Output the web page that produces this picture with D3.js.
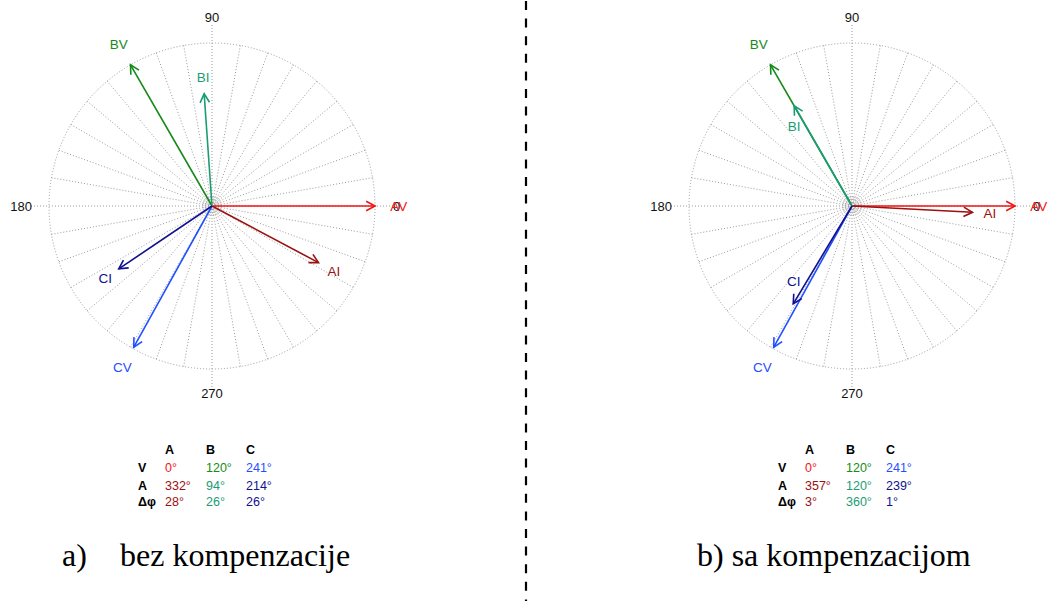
<!DOCTYPE html>
<html>
<head>
<meta charset="utf-8">
<script src="https://cdn.jsdelivr.net/npm/d3@7"></script>
<style>
  html, body { margin: 0; padding: 0; background: #fff; }
  svg { display: block; }
</style>
</head>
<body>
<svg id="chart" width="1048" height="601"></svg>
<script>
// ---------- DATA ----------
const phases = ["A", "B", "C"];
const rowLabels = ["V", "A", "Δφ"];
const axisTicks = [0, 90, 180, 270];

// panel a) bez kompenzacije
const voltAnglesA = [0, 120, 241];
const voltMagA = [1.0, 1.0, 0.99];
const currAnglesA = [332, 94, 214];
const currMagA = [0.74, 0.69, 0.69];
const phaseDiffA = [28, 26, 26];

// panel b) sa kompenzacijom
const voltAnglesB = [0, 120, 241];
const voltMagB = [1.0, 1.0, 0.99];
const currAnglesB = [357, 120, 239];
const currMagB = [0.74, 0.71, 0.70];
const phaseDiffB = [3, 360, 1];

const captions = [["a)", "bez kompenzacije"], ["b) sa kompenzacijom"]];

// ---------- STYLE / LAYOUT ----------
const voltColors = ["#f01414", "#178a17", "#1f4fff"];
const currColors = ["#9b1010", "#1a9c74", "#10108f"];
const gridColor = "#9a9a9a";
const R = 163;
const cy = 206;
const centers = [212, 852];
const font = "'Liberation Sans', Arial, Helvetica, sans-serif";

const svg = d3.select("#chart");
const rScale = d3.scaleLinear().domain([0, 1]).range([0, R]);

function pt(cx, deg, r) {
  const a = deg * Math.PI / 180;
  return [cx + r * Math.cos(a), cy - r * Math.sin(a)];
}

function drawPanel(cx, vAng, vMag, iAng, iMag, dPhi, labelAdjust) {
  const g = svg.append("g");
  // radial grid lines every 10 deg
  const spokes = d3.range(0, 360, 10);
  g.selectAll("line.spoke").data(spokes).join("line")
    .attr("x1", cx).attr("y1", cy)
    .attr("x2", d => pt(cx, d, axisTicks.includes(d) ? 181 : R)[0])
    .attr("y2", d => pt(cx, d, axisTicks.includes(d) ? 181 : R)[1])
    .attr("stroke", gridColor).attr("stroke-width", 1)
    .attr("stroke-dasharray", "1,2");
  // circles
  const rings = [3, 5, 7, 9];
  g.selectAll("circle.ring").data(rings).join("circle")
    .attr("cx", cx).attr("cy", cy).attr("r", d => d)
    .attr("fill", "none").attr("stroke", gridColor).attr("stroke-width", 0.8)
    .attr("stroke-dasharray", "1,1");
  g.append("circle").attr("cx", cx).attr("cy", cy).attr("r", R)
    .attr("fill", "none").attr("stroke", gridColor).attr("stroke-width", 1)
    .attr("stroke-dasharray", "1,2");

  // tick labels
  const tickPos = {
    0: { r: 181, anchor: "start" },
    90: { r: 189, anchor: "middle" },
    180: { r: 180, anchor: "end" },
    270: { r: 187, anchor: "middle" }
  };
  g.selectAll("text.tick").data(axisTicks).join("text")
    .attr("x", d => pt(cx, d, tickPos[d].r)[0])
    .attr("y", d => pt(cx, d, tickPos[d].r)[1])
    .attr("dy", "0.36em")
    .attr("text-anchor", d => tickPos[d].anchor)
    .attr("font-family", font).attr("font-size", 13).attr("fill", "#111")
    .text(d => d);

  // vectors
  const vecs = [];
  phases.forEach((p, i) => {
    vecs.push({ name: p + "V", ang: vAng[i], mag: vMag[i], color: voltColors[i] });
  });
  phases.forEach((p, i) => {
    vecs.push({ name: p + "I", ang: iAng[i], mag: iMag[i], color: currColors[i] });
  });

  const vg = g.selectAll("g.vec").data(vecs).join("g");
  vg.each(function (d) {
    const sel = d3.select(this);
    const len = rScale(d.mag);
    const tip = pt(cx, d.ang, len);
    sel.append("line")
      .attr("x1", cx).attr("y1", cy).attr("x2", tip[0]).attr("y2", tip[1])
      .attr("stroke", d.color).attr("stroke-width", 1.6);
    const barb = 10, spread = 28;
    const back = (d.ang + 180);
    const b1 = [tip[0] + barb * Math.cos((back + spread) * Math.PI / 180),
                tip[1] - barb * Math.sin((back + spread) * Math.PI / 180)];
    const b2 = [tip[0] + barb * Math.cos((back - spread) * Math.PI / 180),
                tip[1] - barb * Math.sin((back - spread) * Math.PI / 180)];
    sel.append("path")
      .attr("d", `M${b1[0]},${b1[1]}L${tip[0]},${tip[1]}L${b2[0]},${b2[1]}`)
      .attr("fill", "none").attr("stroke", d.color).attr("stroke-width", 1.6);
    const adj = labelAdjust[d.name];
    const lp = adj ? pt(cx, d.ang + adj.da, rScale(adj.r)) : pt(cx, d.ang, len * 1.145);
    sel.append("text")
      .attr("x", lp[0]).attr("y", lp[1]).attr("dy", "0.36em")
      .attr("text-anchor", "middle")
      .attr("font-family", font).attr("font-size", 13.5).attr("fill", d.color)
      .text(d.name);
  });

  // table
  const colX = [cx - 47, cx - 6, cx + 34];
  const rowX = cx - 74;
  const rowY = [454, 471.5, 490, 505.5];
  const tg = g.append("g").attr("font-family", font).attr("font-size", 12.5);
  tg.selectAll("text.hdr").data(phases).join("text")
    .attr("x", (d, i) => colX[i]).attr("y", rowY[0])
    .attr("font-weight", "bold").attr("fill", "#000").text(d => d);
  tg.selectAll("text.rl").data(rowLabels).join("text")
    .attr("x", rowX).attr("y", (d, i) => rowY[i + 1])
    .attr("font-weight", "bold").attr("fill", "#000").text(d => d);
  const rows = [
    { vals: vAng, colors: voltColors },
    { vals: iAng, colors: currColors },
    { vals: dPhi, colors: currColors }
  ];
  rows.forEach((row, ri) => {
    tg.selectAll(null).data(row.vals).join("text")
      .attr("x", (d, i) => colX[i]).attr("y", rowY[ri + 1])
      .attr("fill", (d, i) => row.colors[i])
      .text(d => d + "°");
  });
}

drawPanel(centers[0], voltAnglesA, voltMagA, currAnglesA, currMagA, phaseDiffA, {});
drawPanel(centers[1], voltAnglesB, voltMagB, currAnglesB, currMagB, phaseDiffB, {
  BI: { r: 0.607, da: 5.8 },
  CI: { r: 0.585, da: -6.6 }
});

// separator
svg.append("line")
  .attr("x1", 526).attr("x2", 526).attr("y1", 1).attr("y2", 601)
  .attr("stroke", "#000").attr("stroke-width", 2.2)
  .attr("stroke-dasharray", "9,8.6");

// captions
const serif = "'Liberation Serif', 'Times New Roman', serif";
svg.append("text").attr("x", 62).attr("y", 565.5)
  .attr("font-family", serif).attr("font-size", 32).text(captions[0][0]);
svg.append("text").attr("x", 120).attr("y", 565.5)
  .attr("font-family", serif).attr("font-size", 32).text(captions[0][1]);
svg.append("text").attr("x", 697).attr("y", 565.5)
  .attr("font-family", serif).attr("font-size", 32).text(captions[1][0]);
</script>
</body>
</html>
